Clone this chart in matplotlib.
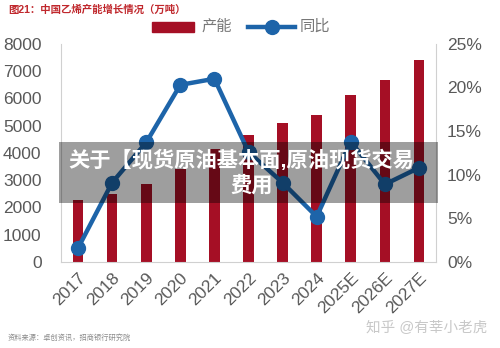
import numpy as np
import matplotlib
matplotlib.use("Agg")
import matplotlib.pyplot as plt
from matplotlib.patches import Rectangle
from matplotlib.lines import Line2D
from matplotlib.ticker import FuncFormatter

plt.rcParams['font.family'] = ['Liberation Sans', 'Noto Sans CJK SC', 'DejaVu Sans']

years = ["2017", "2018", "2019", "2020", "2021", "2022", "2023", "2024",
         "2025E", "2026E", "2027E"]
capacity = [2280, 2500, 2850, 3410, 4130, 4670, 5110, 5380, 6130, 6680, 7410]
growth = [1.6, 9.1, 13.7, 20.3, 21.0, 12.6, 9.1, 5.2, 13.8, 8.9, 10.8]
legend_labels = ["产能", "同比"]

bar_color = "#a50f25"
line_color = "#1d64a9"
tick_color = "#595959"

fig = plt.figure(figsize=(5.0, 3.48), dpi=100)
ax = fig.add_axes([0.122, 0.247, 0.75, 0.627])
x = np.arange(len(years))
ax.bar(x, capacity, width=0.31, color=bar_color, zorder=2)
ax.set_xlim(-0.5, len(years) - 0.5)
ax.set_ylim(0, 8000)
ax.set_yticks(np.arange(0, 8001, 1000))
ax.set_xticks(x)
ax.set_xticklabels(years, rotation=45, ha="right", rotation_mode="anchor")
ax.tick_params(axis="both", length=0, labelsize=12.5, colors=tick_color, pad=6)
ax.tick_params(axis="y", pad=14)
for s in ["top", "right"]:
    ax.spines[s].set_visible(False)
ax.spines["left"].set_color("#d0d0d0")
ax.spines["bottom"].set_color("#d0d0d0")

ax2 = ax.twinx()
ax2.plot(x, growth, color=line_color, lw=3.2, marker="o", markersize=10, zorder=3)
ax2.set_ylim(0, 25)
ax2.set_yticks(np.arange(0, 26, 5))
ax2.yaxis.set_major_formatter(FuncFormatter(lambda v, p: f"{v:.0f}%"))
ax2.tick_params(axis="y", length=0, labelsize=12.5, colors=tick_color, pad=8)
for s in ["top", "left", "bottom"]:
    ax2.spines[s].set_visible(False)
ax2.spines["right"].set_color("#d0d0d0")

fig.text(0.016, 0.972, "图21：中国乙烯产能增长情况（万吨）", color="#c0282d",
         fontsize=7.5, fontweight="bold", va="center")

# legend drawn by hand to match the spacing of the original
ly = 1 - 26.7 / 348
fig.add_artist(Rectangle((152 / 500, 1 - 31.7 / 348), 42 / 500, 10 / 348,
                         transform=fig.transFigure, color=bar_color))
fig.text(202 / 500, ly, legend_labels[0], color="#777777", fontsize=11, va="center")
fig.add_artist(Line2D([248 / 500, 295 / 500], [ly, ly], transform=fig.transFigure,
                      color=line_color, lw=3.2))
fig.add_artist(Line2D([272 / 500], [ly], transform=fig.transFigure, color=line_color,
                      marker="o", markersize=10))
fig.text(300 / 500, ly, legend_labels[1], color="#777777", fontsize=11, va="center")

fig.text(0.016, 0.028, "资料来源：卓创资讯，招商银行研究院", color="#8a8a8a", fontsize=5.2,
         va="center")
fig.text(0.975, 0.058, "知乎 @有莘小老虎", color="#c8c8c8", fontsize=10.5,
         ha="right", va="center")

fig.add_artist(Rectangle((0.118, 0.4167), 0.758, 0.175, transform=fig.transFigure,
                         facecolor="black", alpha=0.38, edgecolor="none", zorder=10))
fig.text(0.482, 0.540, "关于【现货原油基本面,原油现货交易", color="white", fontsize=15.3,
         fontweight="bold", ha="center", va="center", zorder=11)
fig.text(0.504, 0.468, "费用", color="white", fontsize=15.3, fontweight="bold",
         ha="center", va="center", zorder=11)

fig.savefig("out.png", dpi=100)
